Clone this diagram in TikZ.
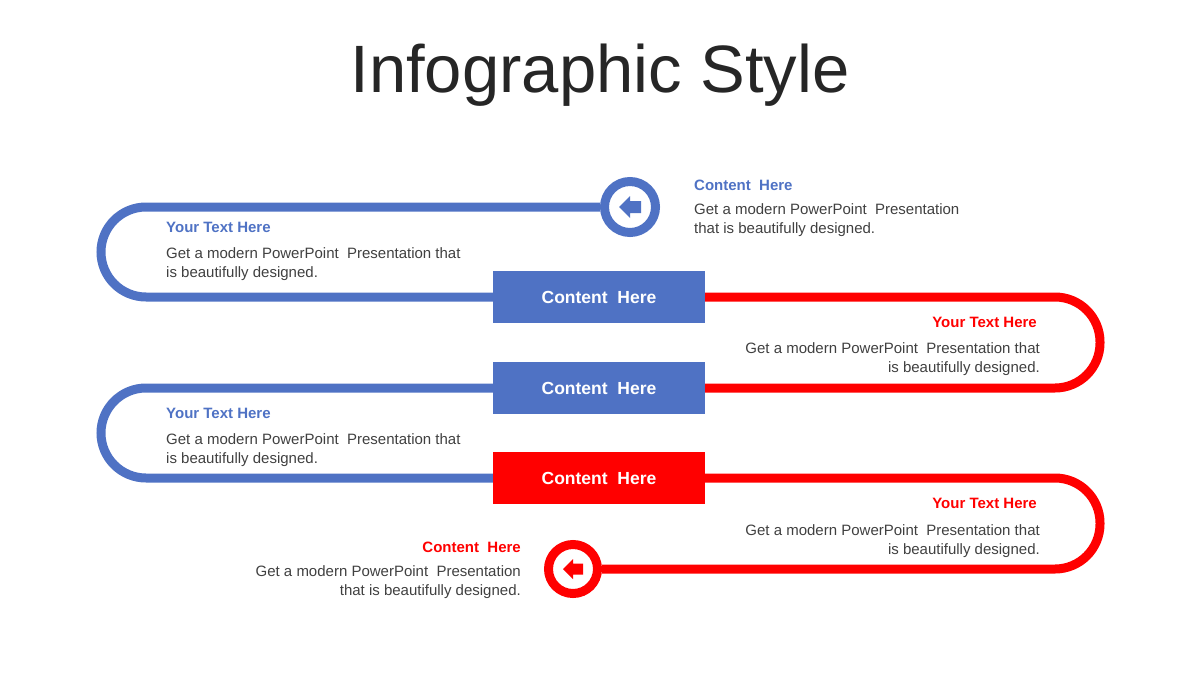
\documentclass[tikz,border=0pt]{standalone}
\usepackage{fontspec}
\setmainfont{Liberation Sans}
\usetikzlibrary{positioning,calc}
\definecolor{cBlue}{RGB}{79,114,196}
\definecolor{cRed}{RGB}{255,0,0}
\definecolor{ink}{RGB}{38,38,38}
\definecolor{body}{RGB}{64,64,64}
\tikzset{
  track/.style={line width=9pt,rounded corners=45pt},
  stage/.style={minimum width=212pt,minimum height=52pt,inner sep=0pt,
    text=white,font=\fontsize{17.5}{20}\selectfont\bfseries},
  ring/.style={circle,draw,line width=9pt,fill=white,inner sep=0pt},
  head/.style={font=\fontsize{15}{18}\selectfont\bfseries,inner sep=0pt},
  txt/.style={font=\fontsize{15}{18.5}\selectfont,text=body,inner sep=0pt},
}

\begin{document}
\begin{tikzpicture}[x=1pt,y=-1pt]
  \useasboundingbox (0,0) rectangle (1200,675);
  \node[font=\fontsize{67}{80}\selectfont,text=ink] (title) at (600,75) {Infographic Style};

  % turning columns
  \coordinate (lx) at (101,0);
  \coordinate (rx) at (1100,0);

  % stages
  \foreach \i/\y/\c in {1/297/cBlue,2/388/cBlue,3/478/cRed} {
    \node[stage,fill=\c] (box\i) at (599,\y) {Content~ Here};
  }
  \node[ring,draw=cBlue,minimum size=51pt] (startc) at (630,207) {};
  \node[ring,draw=cRed,minimum size=49pt] (endc) at (573,569) {};

  % tracks
  \draw[track,cBlue] (startc) -- (startc -| lx) -- (box1 -| lx) -- (box1);
  \draw[track,cRed] (box1) -- (box1 -| rx) -- (box2 -| rx) -- (box2);
  \draw[track,cBlue] (box2) -- (box2 -| lx) -- (box3 -| lx) -- (box3);
  \draw[track,cRed] (box3) -- (box3 -| rx) -- (endc -| rx) -- (endc);

  % arrows in rings
  \fill[cBlue,shift={(startc)}] (-11,0) -- (0,-11) -- (0,-6) -- (11,-6) -- (11,6) -- (0,6) -- (0,11) -- cycle;
  \fill[cRed,shift={(endc)}] (-10,0) -- (0,-10) -- (0,-5.5) -- (10,-5.5) -- (10,5.5) -- (0,5.5) -- (0,10) -- cycle;

  % texts (body nodes sit on the baseline of their last line)
  \node[head,text=cBlue,anchor=base west] (h0) at (694,190) {Content~ Here};
  \node[txt,align=left,anchor=base west] (t0) at (694,233) {Get a modern PowerPoint~ Presentation\\that is beautifully designed.};

  \node[head,text=cBlue,anchor=base west] (h1) at (166,232) {Your Text Here};
  \node[txt,align=left,anchor=base west] (t1) at (166,277) {Get a modern PowerPoint~ Presentation that\\is beautifully designed.};

  \node[head,text=cRed,anchor=base east] (h2) at (1037,327) {Your Text Here};
  \node[txt,align=right,anchor=base east] (t2) at (1040,372) {Get a modern PowerPoint~ Presentation that\\is beautifully designed.};

  \node[head,text=cBlue,anchor=base west] (h3) at (166,418) {Your Text Here};
  \node[txt,align=left,anchor=base west] (t3) at (166,463) {Get a modern PowerPoint~ Presentation that\\is beautifully designed.};

  \node[head,text=cRed,anchor=base east] (h4) at (1037,508) {Your Text Here};
  \node[txt,align=right,anchor=base east] (t4) at (1040,554) {Get a modern PowerPoint~ Presentation that\\is beautifully designed.};

  \node[head,text=cRed,anchor=base east] (h5) at (521,552) {Content~ Here};
  \node[txt,align=right,anchor=base east] (t5) at (521,595) {Get a modern PowerPoint~ Presentation\\that is beautifully designed.};
\end{tikzpicture}
\end{document}
